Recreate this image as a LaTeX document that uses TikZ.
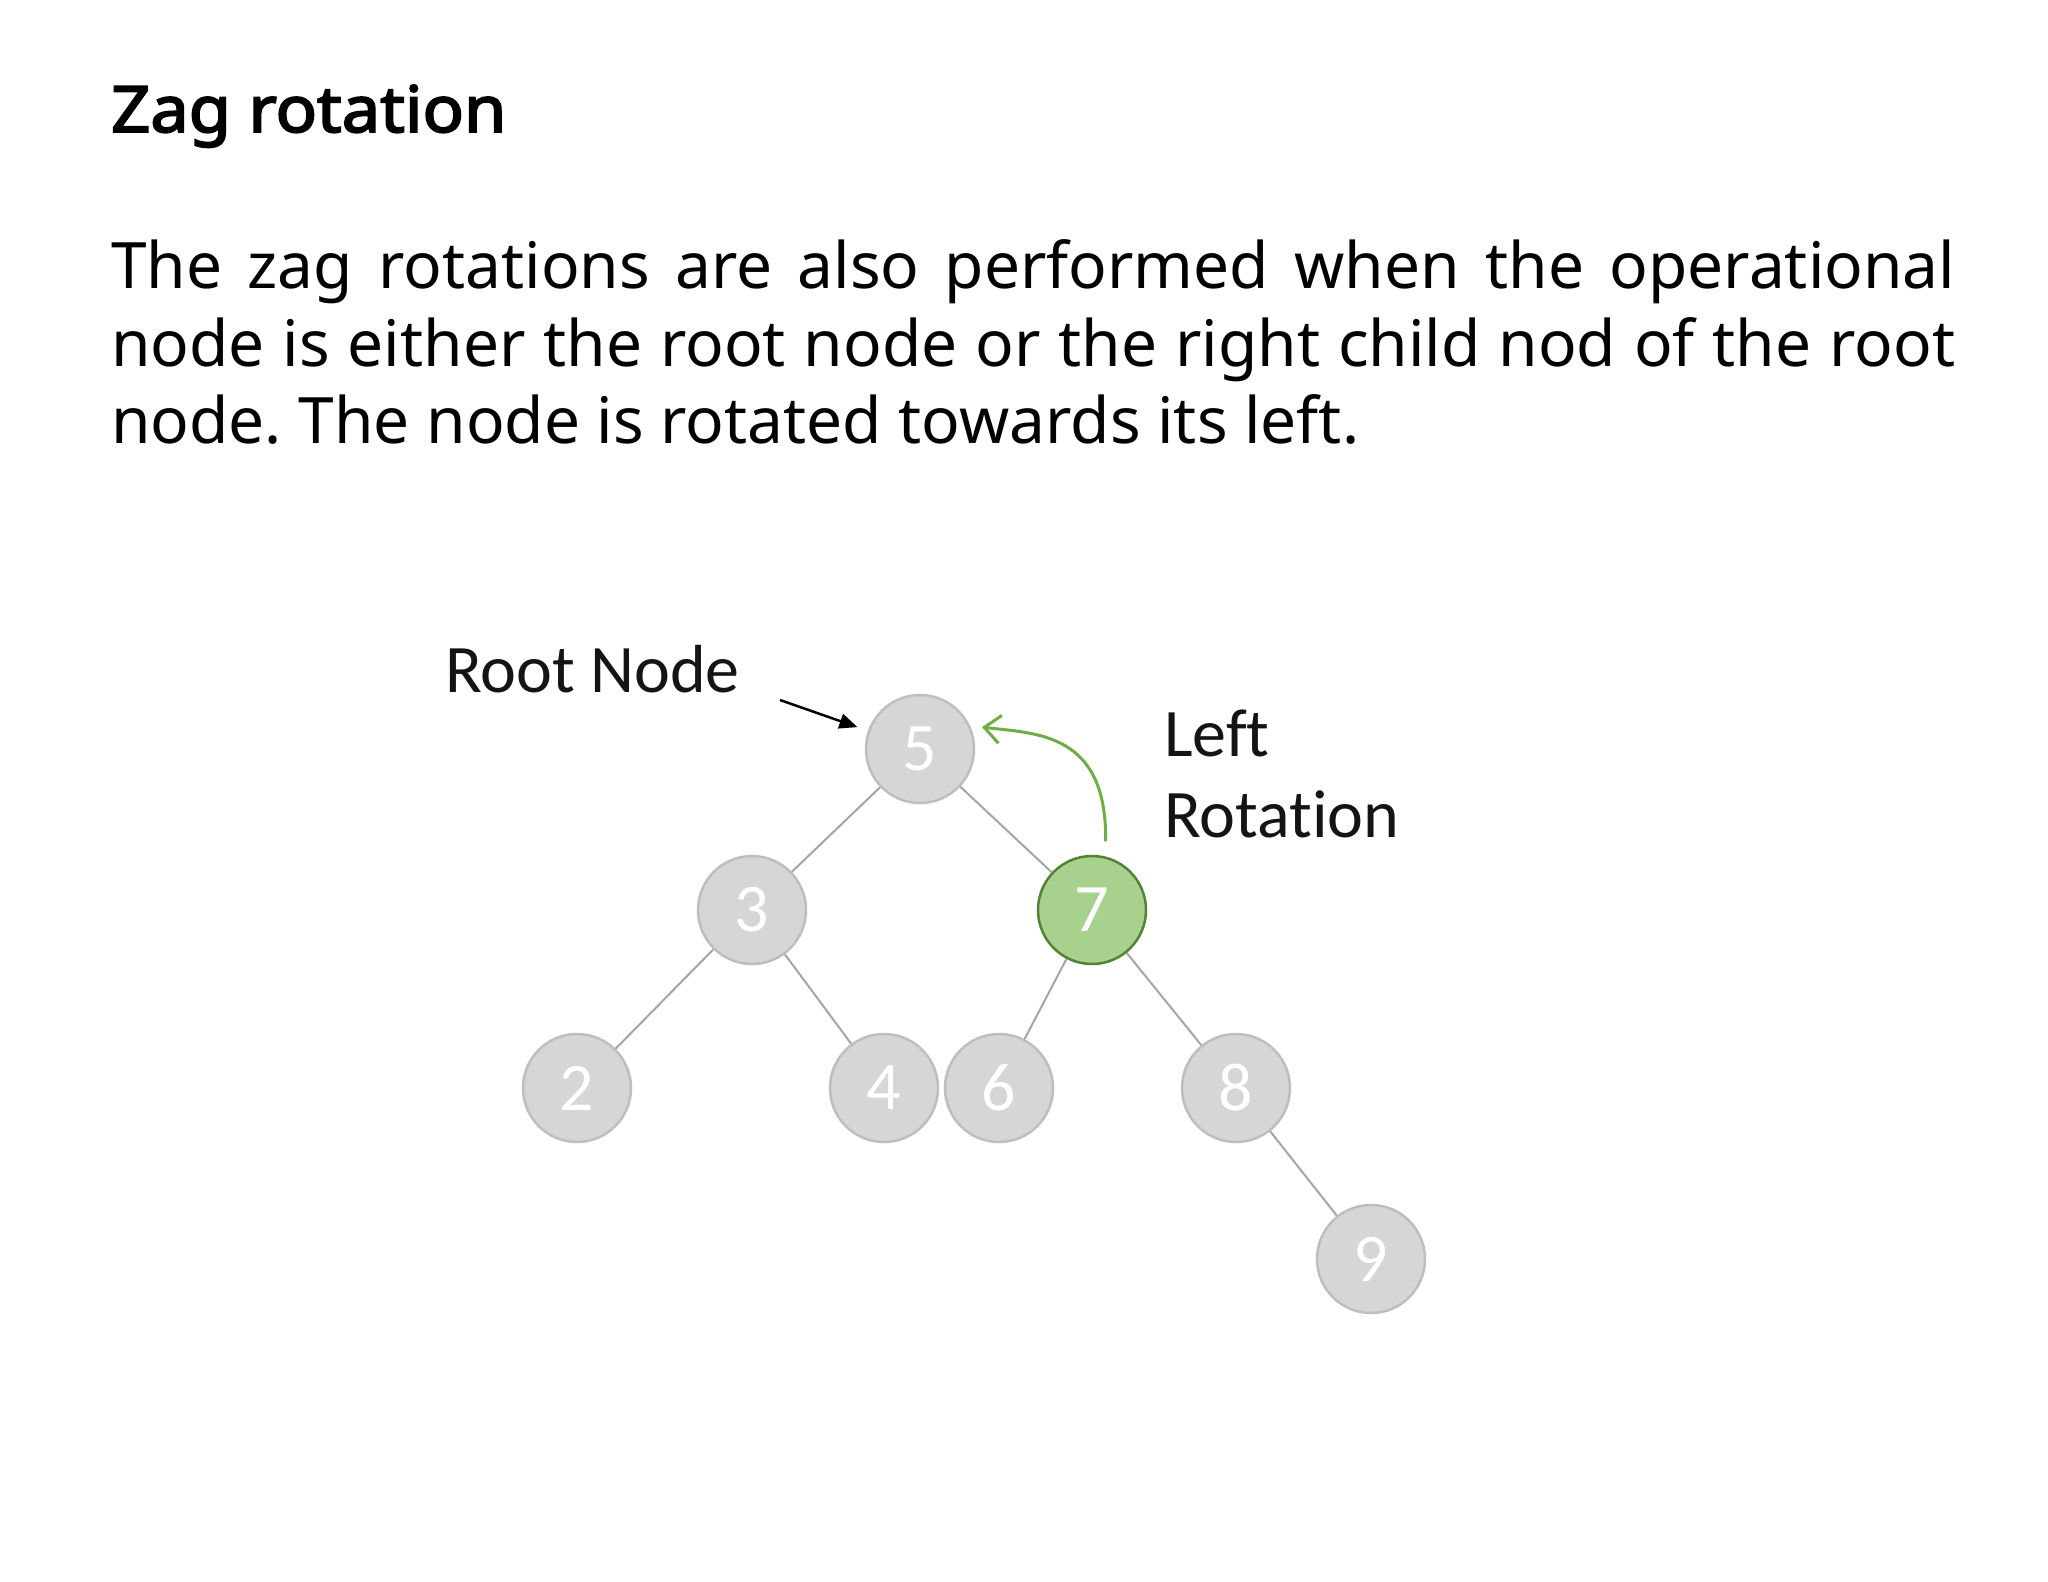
\documentclass[tikz,border=0pt]{standalone}
\usepackage{fontspec}
\setmainfont{Noto Sans}
\newfontfamily\titlefont{Noto Sans}[FakeBold=3,FakeStretch=1.07]
\newfontfamily\calfont{Carlito}[Ligatures={NoCommon}]
\usetikzlibrary{arrows.meta}
\definecolor{nodefill}{RGB}{214,214,214}
\definecolor{nodeline}{RGB}{190,190,190}
\definecolor{greenfill}{RGB}{169,209,142}
\definecolor{greenline}{RGB}{84,130,53}
\definecolor{greenarrow}{RGB}{112,173,71}
\definecolor{edgegray}{RGB}{165,165,165}
\frenchspacing
\begin{document}
\begin{tikzpicture}[x=1pt,y=-1pt,
  treenode/.style={circle, minimum size=108pt, inner sep=0pt, fill=nodefill,
    draw=nodeline, line width=2.5pt, text=white,
    font=\calfont\fontsize{68}{68}\selectfont},
  activenode/.style={treenode, fill=greenfill, draw=greenline},
  treeedge/.style={draw=edgegray, line width=2pt},
  difflabel/.style={anchor=base west, inner sep=0pt,
    font=\calfont\fontsize{68}{80}\selectfont, text=black!92},
  bodyline/.style={anchor=base west, inner sep=0pt,
    font=\fontsize{64}{78}\selectfont},
  rootptr/.style={draw=black, line width=2.5pt,
    -{Triangle[length=18pt,width=15pt]}, shorten >=11pt},
  rotptr/.style={draw=greenarrow, line width=3pt,
    -{Straight Barb[length=16pt,width=28pt,line width=3pt]},
    shorten <=15pt, shorten >=12pt}]
\useasboundingbox[fill=white] (0,0) rectangle (2048,1582);

% text
\node[bodyline, font=\titlefont\fontsize{64}{78}\selectfont] (title) at (111,132) {Zag rotation};
\node[bodyline] (line1) at (111,288) {\makebox[1844pt][s]{The zag rotations are also performed when the operational}};
\node[bodyline] (line2) at (111,366) {\makebox[1844pt][s]{node is either the root node or the right child nod of the root}};
\node[bodyline] (line3) at (111,443) {node. The node is rotated towards its left.};

% tree nodes
\node[treenode]   (n5) at (920,749)  {5};
\node[treenode]   (n3) at (752,910)  {3};
\node[activenode] (n7) at (1092,910) {7};
\node[treenode]   (n2) at (577,1088) {2};
\node[treenode]   (n4) at (884,1088) {4};
\node[treenode]   (n6) at (999,1088) {6};
\node[treenode]   (n8) at (1236,1088) {8};
\node[treenode]   (n9) at (1371,1259) {9};

% edges
\draw[treeedge] (n5) -- (n3);
\draw[treeedge] (n5) -- (n7);
\draw[treeedge] (n3) -- (n2);
\draw[treeedge] (n3) -- (n4);
\draw[treeedge] (n7) -- (n6);
\draw[treeedge] (n7) -- (n8);
\draw[treeedge] (n8) -- (n9);

% labels
\node[difflabel] (rootlabel) at (445,692) {Root Node};
\node[difflabel] (leftlabel) at (1164,756) {Left};
\node[difflabel] (rotlabel) at (1164,837) {Rotation};

% arrows
\coordinate (rootarrow) at (780,700);
\draw[rootptr] (rootarrow) -- (n5);
\draw[rotptr] (n7.76) .. controls +(2,-125) and +(65,8) .. (n5.25);
\end{tikzpicture}
\end{document}
